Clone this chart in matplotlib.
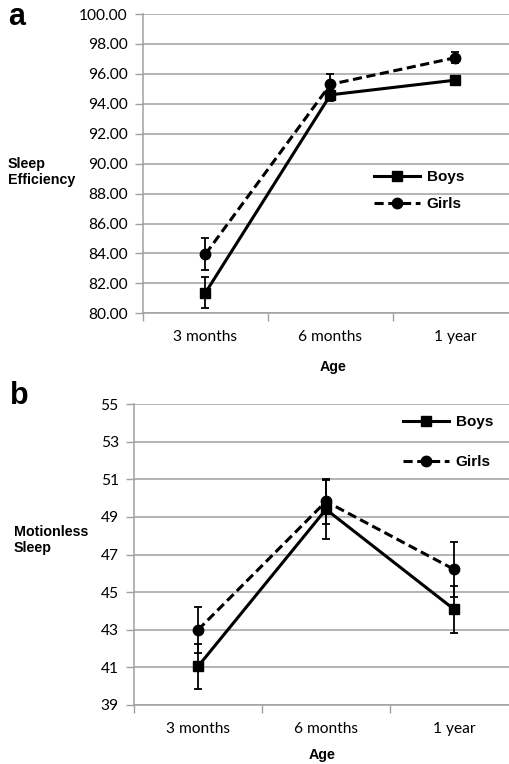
import matplotlib
matplotlib.use("Agg")
import matplotlib.pyplot as plt
from matplotlib.lines import Line2D
import numpy as np

categories = ["3 months", "6 months", "1 year"]

# Panel a: Sleep Efficiency
eff_boys = [81.38, 94.60, 95.58]
eff_boys_err = [1.05, 0.40, 0.22]
eff_girls = [83.96, 95.30, 97.08]
eff_girls_err = [1.04, 0.68, 0.35]
eff_ticks = [80, 82, 84, 86, 88, 90, 92, 94, 96, 98, 100]

# Panel b: Motionless Sleep
mot_boys = [41.05, 49.40, 44.09]
mot_boys_err = [1.18, 1.55, 1.25]
mot_girls = [42.99, 49.82, 46.21]
mot_girls_err = [1.20, 1.18, 1.46]
mot_ticks = [39, 41, 43, 45, 47, 49, 51, 53, 55]

W, H = 510, 764
fig = plt.figure(figsize=(W / 100, H / 100), dpi=100)
fig.patch.set_facecolor("white")

TICK_FONT = "Lato"
BOLD_FONT = "Liberation Sans"
GRID = "#a0a0a0"
LW = 2.2


def px_axes(left, right, top, bottom):
    return fig.add_axes([left / W, (H - bottom) / H, (right - left) / W, (bottom - top) / H])


def draw_panel(ax, boys, boys_err, girls, girls_err, yticks, fmt, leg_anchor, labelspacing):
    x = np.arange(len(categories))
    ax.errorbar(x, girls, yerr=girls_err, color="black", lw=LW, ls=(0, (3.0, 1.5)),
                marker="o", ms=7.5, capsize=2.6, elinewidth=1.3, capthick=1.3, zorder=3)
    ax.errorbar(x, boys, yerr=boys_err, color="black", lw=LW, ls="-",
                marker="s", ms=7.5, capsize=2.6, elinewidth=1.3, capthick=1.3, zorder=4)
    ax.set_xlim(-0.5, len(categories) - 0.5)
    ax.set_ylim(yticks[0], yticks[-1])
    ax.set_yticks(yticks)
    ax.set_yticklabels([fmt.format(v) for v in yticks], fontfamily=TICK_FONT, fontsize=11.2)
    ax.set_xticks(x)
    ax.set_xticklabels(categories, fontfamily=TICK_FONT, fontsize=11.2)
    ax.set_xticks(np.arange(len(categories) + 1) - 0.5, minor=True)
    ax.tick_params(axis="x", which="major", length=0, pad=12)
    ax.tick_params(axis="x", which="minor", length=6, width=1, color=GRID, direction="out")
    ax.tick_params(axis="y", which="major", length=6, width=1, color=GRID, direction="out", pad=5)
    ax.yaxis.grid(True, color=GRID, lw=1.1)
    ax.set_axisbelow(True)
    for s in ["top", "right"]:
        ax.spines[s].set_visible(False)
    for s in ["left", "bottom"]:
        ax.spines[s].set_color(GRID)
        ax.spines[s].set_linewidth(1.1)
    handles = [
        Line2D([], [], color="black", lw=LW, ls="-", marker="s", ms=7.5),
        Line2D([], [], color="black", lw=LW, ls=(0, (3.0, 1.5)), marker="o", ms=7.5),
    ]
    leg = fig.legend(handles, ["Boys", "Girls"], loc="upper left",
                     bbox_to_anchor=(leg_anchor[0] / W, 1 - leg_anchor[1] / H),
                     frameon=False, borderpad=0, borderaxespad=0,
                     handlelength=3.0, handletextpad=0.45, labelspacing=labelspacing,
                     prop={"family": BOLD_FONT, "weight": "bold", "size": 11})
    return leg


# Panel a
ax1 = px_axes(143, 518, 14, 313.3)
draw_panel(ax1, eff_boys, eff_boys_err, eff_girls, eff_girls_err, eff_ticks, "{:.2f}",
           (374, 170), 0.85)
fig.text(8 / W, 1 - 172 / H, "Sleep\nEfficiency", fontfamily=BOLD_FONT, fontweight="bold",
         fontsize=10.3, ha="left", va="center", linespacing=1.2)
fig.text(333 / W, 1 - 367 / H, "Age", fontfamily=BOLD_FONT, fontweight="bold",
         fontsize=10.3, ha="center", va="center")
fig.text(17 / W, 1 - 17 / H, "a", fontfamily=BOLD_FONT, fontweight="bold",
         fontsize=22, ha="center", va="center")

# Panel b
ax2 = px_axes(134, 518, 404, 705)
draw_panel(ax2, mot_boys, mot_boys_err, mot_girls, mot_girls_err, mot_ticks, "{:d}",
           (403, 415), 1.7)
fig.text(14 / W, 1 - 540 / H, "Motionless\nSleep", fontfamily=BOLD_FONT, fontweight="bold",
         fontsize=10.3, ha="left", va="center", linespacing=1.2)
fig.text(322 / W, 1 - 755 / H, "Age", fontfamily=BOLD_FONT, fontweight="bold",
         fontsize=10.3, ha="center", va="center")
fig.text(19 / W, 1 - 396 / H, "b", fontfamily=BOLD_FONT, fontweight="bold",
         fontsize=22, ha="center", va="center")

fig.savefig("out.png", dpi=100, facecolor="white")
